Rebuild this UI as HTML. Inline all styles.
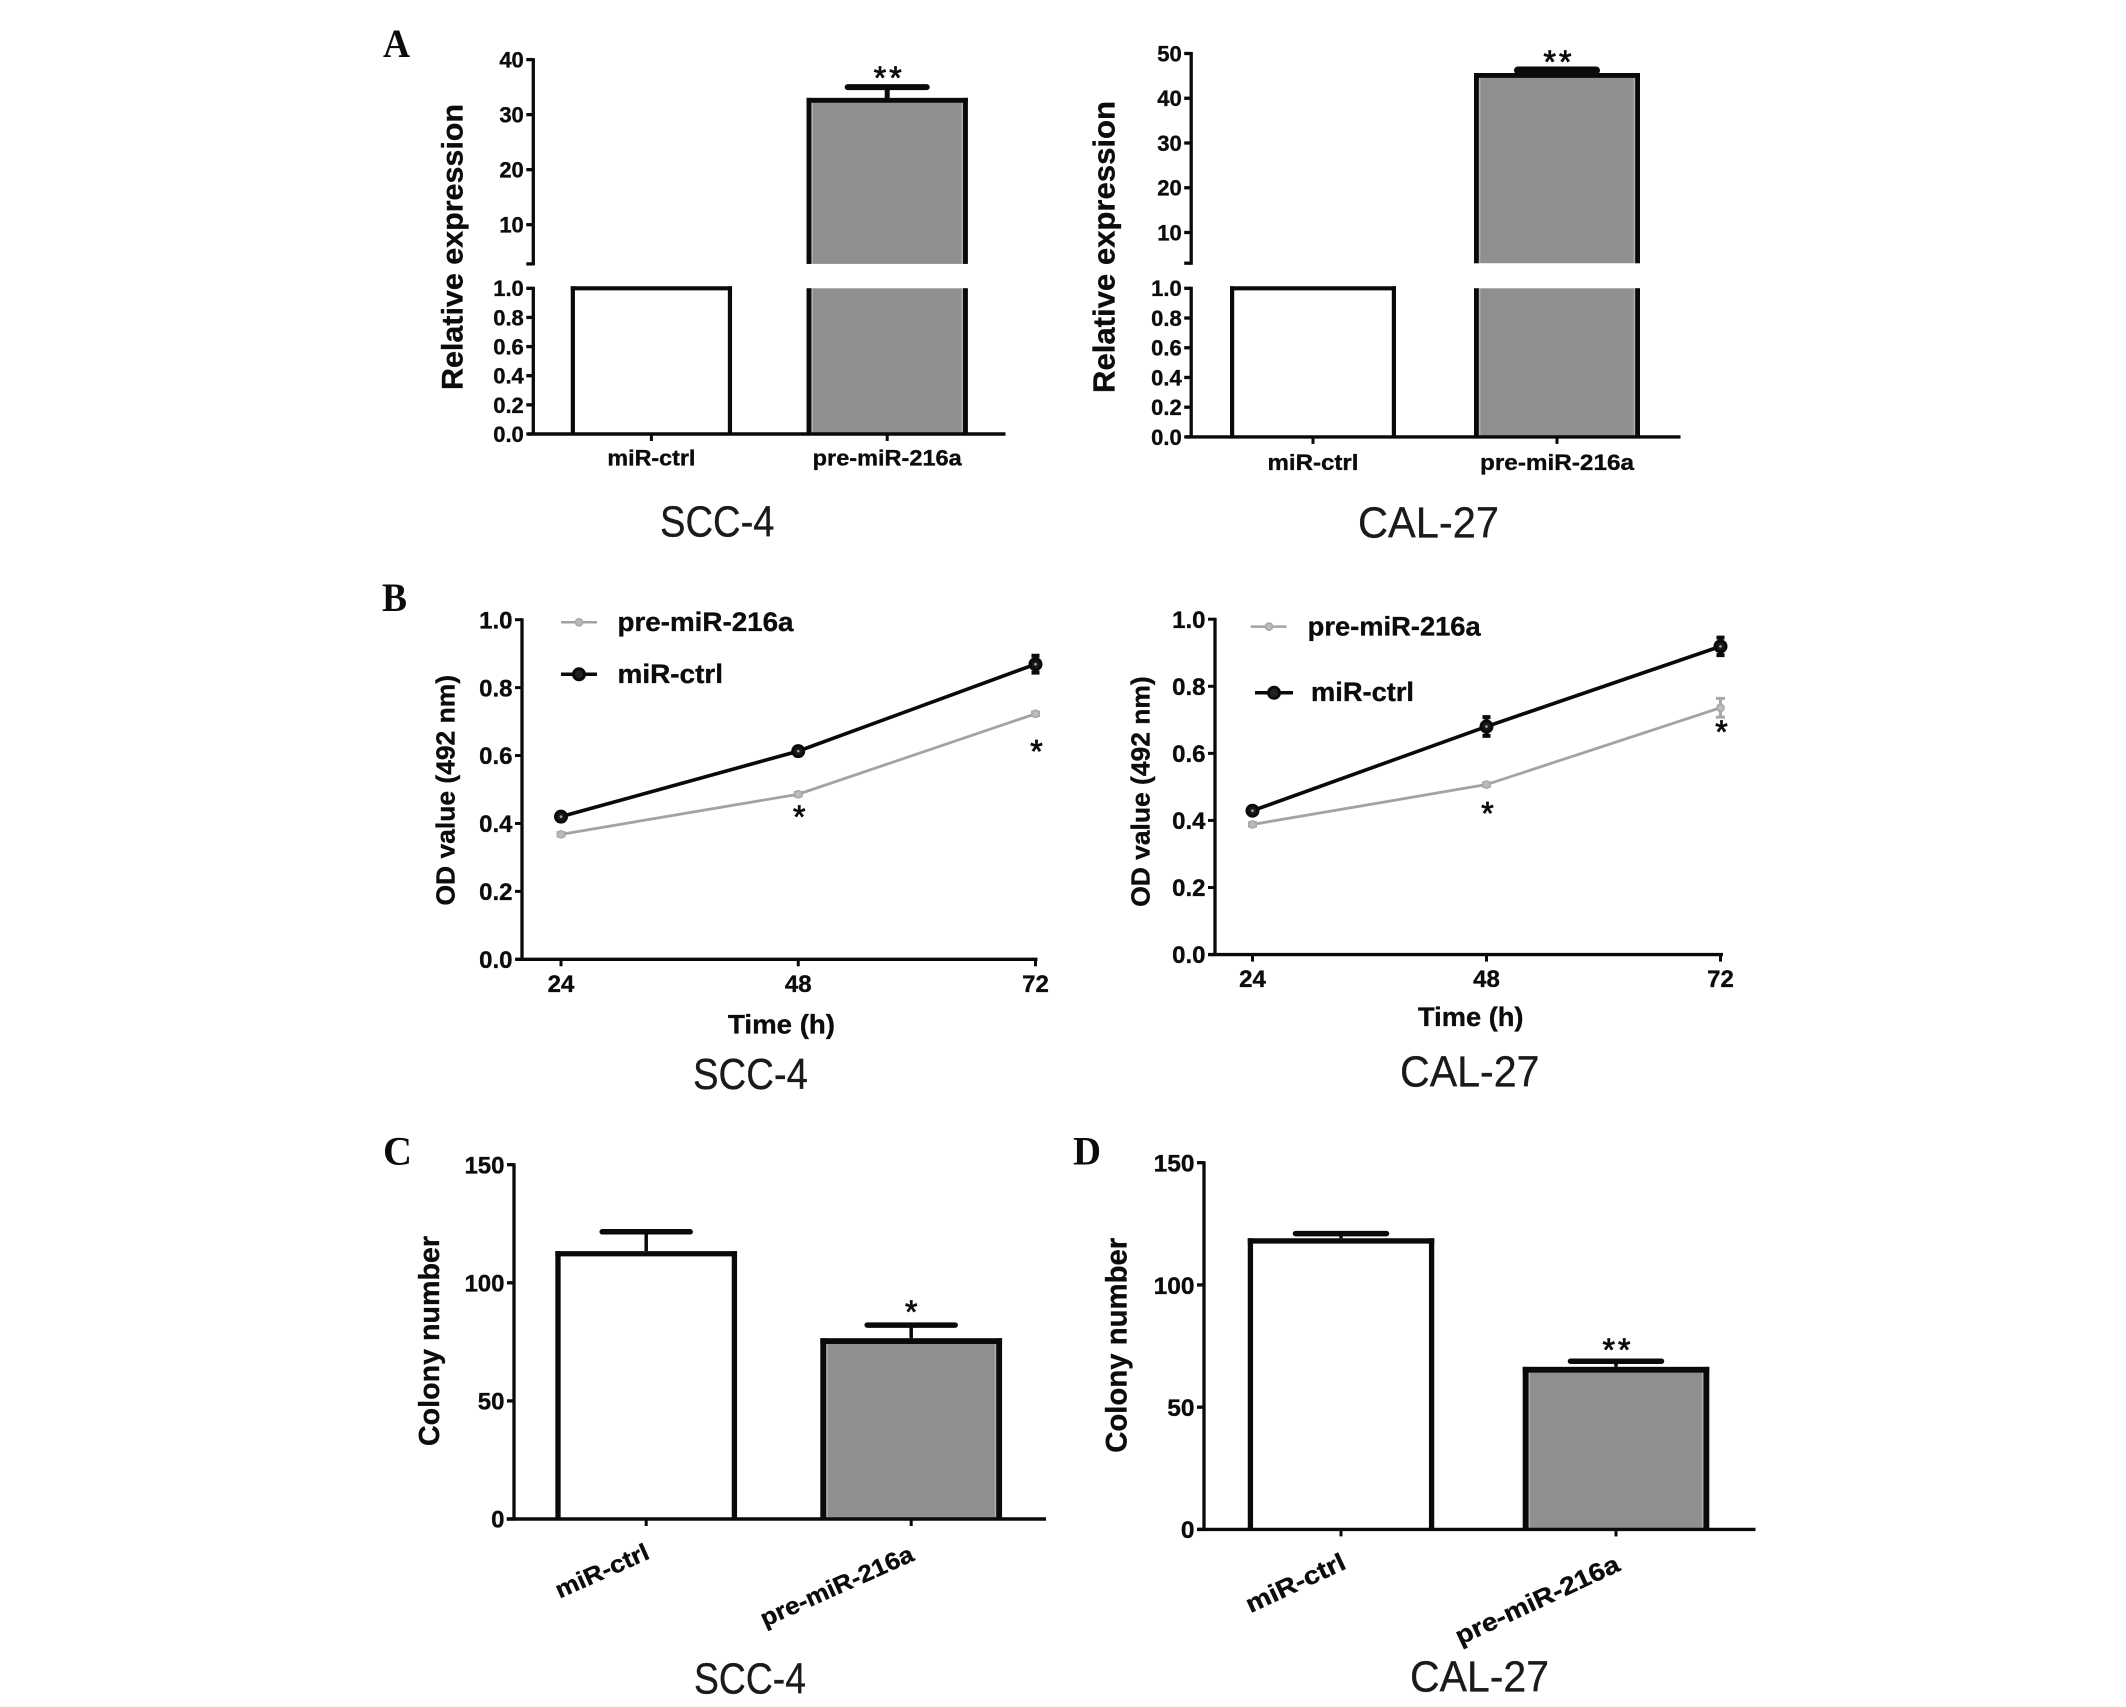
<!DOCTYPE html>
<html lang="en">
<head>
<meta charset="utf-8">
<title>miR-216a expression, proliferation and colony formation</title>
<style>
html,body{margin:0;padding:0;background:#fff;width:2126px;height:1707px;overflow:hidden}
svg{display:block}
text{font-family:"Liberation Sans",Arial,sans-serif;fill:#0c0c0c}
.b,text[font-weight="bold"]{font-weight:bold;stroke:#0c0c0c;stroke-width:.35px}
.letter{font-family:"Liberation Serif",serif;font-weight:bold;font-size:40px}
.caption{font-size:44px;fill:#1a1a1a;stroke:#1a1a1a;stroke-width:.3px}
</style>
</head>
<body>
<svg id="figure" xmlns="http://www.w3.org/2000/svg" width="2126" height="1707" viewBox="0 0 2126 1707">
  <rect x="0" y="0" width="2126" height="1707" fill="#fff"/>

  <text class="letter" x="383" y="57" textLength="27" lengthAdjust="spacingAndGlyphs">A</text>
  <text class="letter" x="382" y="611" textLength="25" lengthAdjust="spacingAndGlyphs">B</text>
  <text class="letter" x="383" y="1164.5" textLength="29" lengthAdjust="spacingAndGlyphs">C</text>
  <text class="letter" x="1073" y="1164.5" textLength="28" lengthAdjust="spacingAndGlyphs">D</text>

  <g id="panel-a1">
    <text class="b" font-size="30" transform="translate(462.5,390) rotate(-90)" textLength="286" lengthAdjust="spacingAndGlyphs">Relative expression</text>
    <text class="caption" x="660" y="536.5" textLength="114.5" lengthAdjust="spacingAndGlyphs">SCC-4</text>
  </g>
  <g id="panel-a2">
    <text class="b" font-size="31" transform="translate(1114.5,393) rotate(-90)" textLength="292" lengthAdjust="spacingAndGlyphs">Relative expression</text>
    <text class="caption" x="1358" y="537.5" textLength="141" lengthAdjust="spacingAndGlyphs">CAL-27</text>
  </g>

  <g id="panel-b1">
    <text class="b" font-size="26" transform="translate(454.5,905.5) rotate(-90)" textLength="230.5" lengthAdjust="spacingAndGlyphs">OD value (492 nm)</text>
    <text class="b" font-size="27" x="728" y="1033.3" textLength="107" lengthAdjust="spacingAndGlyphs">Time (h)</text>
    <text class="caption" x="693" y="1089" textLength="115" lengthAdjust="spacingAndGlyphs">SCC-4</text>
    <g>
      <line x1="561" x2="597" y1="622.3" y2="622.3" stroke="#a3a3a3" stroke-width="2.5"/>
      <circle cx="579" cy="622.3" r="3.6" fill="#bbb" stroke="#a8a8a8" stroke-width="1.5"/>
      <text class="b" font-size="27" x="617.5" y="631" textLength="176" lengthAdjust="spacingAndGlyphs">pre-miR-216a</text>
    </g>
    <g>
      <line x1="561" x2="597" y1="674.3" y2="674.3" stroke="#0a0a0a" stroke-width="3.5"/>
      <circle cx="579" cy="674.3" r="5.5" fill="#222" stroke="#0a0a0a" stroke-width="3"/>
      <text class="b" font-size="27" x="617.5" y="682.8" textLength="105.5" lengthAdjust="spacingAndGlyphs">miR-ctrl</text>
    </g>
  </g>
  <g id="panel-b2">
    <text class="b" font-size="26" transform="translate(1149.7,906.8) rotate(-90)" textLength="230.5" lengthAdjust="spacingAndGlyphs">OD value (492 nm)</text>
    <text class="b" font-size="27" x="1418" y="1026" textLength="105.5" lengthAdjust="spacingAndGlyphs">Time (h)</text>
    <text class="caption" x="1400" y="1086.7" textLength="139.5" lengthAdjust="spacingAndGlyphs">CAL-27</text>
    <g>
      <line x1="1250.7" x2="1286.5" y1="626.6" y2="626.6" stroke="#a3a3a3" stroke-width="2.5"/>
      <circle cx="1269" cy="626.6" r="3.6" fill="#bbb" stroke="#a8a8a8" stroke-width="1.5"/>
      <text class="b" font-size="27" x="1307.7" y="635.4" textLength="173" lengthAdjust="spacingAndGlyphs">pre-miR-216a</text>
    </g>
    <g>
      <line x1="1255" x2="1293" y1="692.8" y2="692.8" stroke="#0a0a0a" stroke-width="3.5"/>
      <circle cx="1274" cy="692.8" r="5.5" fill="#222" stroke="#0a0a0a" stroke-width="3"/>
      <text class="b" font-size="27" x="1311" y="701.2" textLength="103" lengthAdjust="spacingAndGlyphs">miR-ctrl</text>
    </g>
  </g>

  <g id="panel-c">
    <text class="b" font-size="29" transform="translate(439.2,1446) rotate(-90)" textLength="210" lengthAdjust="spacingAndGlyphs">Colony number</text>
    <text class="caption" x="694" y="1693.7" textLength="112" lengthAdjust="spacingAndGlyphs">SCC-4</text>
  </g>
  <g id="panel-d">
    <text class="b" font-size="29.5" transform="translate(1126.5,1452.8) rotate(-90)" textLength="215" lengthAdjust="spacingAndGlyphs">Colony number</text>
    <text class="caption" x="1410" y="1691.5" textLength="139" lengthAdjust="spacingAndGlyphs">CAL-27</text>
  </g>
</svg>

<script>
// ---- Data: panel A, SCC-4 ----
const a1Categories = ['miR-ctrl', 'pre-miR-216a'];
const a1Means = [1, 32.6];
const a1Errors = [0, 2.4];
const a1Stars = ['', '**'];
const a1UpperTicks = [10, 20, 30, 40];
const a1LowerTicks = ['0.0', '0.2', '0.4', '0.6', '0.8', '1.0'];

// ---- Data: panel A, CAL-27 ----
const a2Categories = ['miR-ctrl', 'pre-miR-216a'];
const a2Means = [1, 45.1];
const a2Errors = [0, 1.1];
const a2Stars = ['', '**'];
const a2UpperTicks = [10, 20, 30, 40, 50];
const a2LowerTicks = ['0.0', '0.2', '0.4', '0.6', '0.8', '1.0'];

// ---- Data: panel B, SCC-4 ----
const b1Times = [24, 48, 72];
const b1CtrlMeans = [0.42, 0.613, 0.869];
const b1CtrlErrors = [0.012, 0.012, 0.025];
const b1PreMeans = [0.368, 0.486, 0.723];
const b1PreErrors = [0.005, 0.005, 0.005];
const b1Stars = ['', '*', '*'];
const b1YTicks = ['0.0', '0.2', '0.4', '0.6', '0.8', '1.0'];

// ---- Data: panel B, CAL-27 ----
const b2Times = [24, 48, 72];
const b2CtrlMeans = [0.429, 0.68, 0.919];
const b2CtrlErrors = [0.01, 0.028, 0.026];
const b2PreMeans = [0.388, 0.507, 0.736];
const b2PreErrors = [0.005, 0.005, 0.028];
const b2Stars = ['', '*', '*'];
const b2YTicks = ['0.0', '0.2', '0.4', '0.6', '0.8', '1.0'];

// ---- Data: panel C ----
const cCategories = ['miR-ctrl', 'pre-miR-216a'];
const cMeans = [112.3, 75.3];
const cErrors = [9.3, 6.8];
const cStars = ['', '*'];
const cYTicks = [0, 50, 100, 150];

// ---- Data: panel D ----
const dCategories = ['miR-ctrl', 'pre-miR-216a'];
const dMeans = [118, 65.3];
const dErrors = [3, 3.5];
const dStars = ['', '**'];
const dYTicks = [0, 50, 100, 150];

// ---- Layout ----
const BLACK = '#0a0a0a';
const GREY_FILL = '#8f8f8f';
const GREY_EDGE = '#b0b0b0';
const GREY_LINE = '#a3a3a3';

const layoutA1 = {spineX:533.3, xStart:528, xEnd:1005.5, baseY:434, lowerTopY:288.3, upperRefA:10, upperRefAY:224.7, upperRefB:40, upperRefBY:59.6, upperBottomY:263.9,
  centerA:651.4, centerB:887.2, barWidth:161.3, strokes:[4.2,4.8], capHalf:39.5, capWidth:6, stemWidth:5, labelY:465.5, labelWidths:[88,149], labelSize:22, tickSize:22, starGap:11, axisWidth:3.3};
const layoutA2 = {spineX:1191.2, xStart:1186, xEnd:1680.5, baseY:436.9, lowerTopY:288.3, upperRefA:10, upperRefAY:232.5, upperRefB:50, upperRefBY:53.5, upperBottomY:263.2,
  centerA:1313, centerB:1557, barWidth:166, strokes:[4.2,4.8], capHalf:39, capWidth:8, stemWidth:4.5, labelY:470, labelWidths:[91,154], labelSize:22.5, tickSize:22, starGap:10.5, axisWidth:3.3};
const layoutC = {spineX:514, xStart:506.7, xEnd:1046, baseY:1519, topY:1164.7, topValue:150,
  centerA:646.2, centerB:911.2, barWidth:181.7, strokes:[5.3,5.8], capHalf:44, capWidth:5.5, stemWidth:3.5, tickSize:24, starGap:15, axisWidth:3.3,
  labelAnchors:[[651,1558],[915.5,1560]], labelWidths:[100,165], labelSize:24, labelAngle:-24};
const layoutD = {spineX:1204, xStart:1197.6, xEnd:1755.5, baseY:1529.4, topY:1162.7, topValue:150,
  centerA:1341, centerB:1616, barWidth:186.5, strokes:[5.3,5.8], capHalf:45.5, capWidth:5.5, stemWidth:3.5, tickSize:24.5, starGap:13, axisWidth:3.3,
  labelAnchors:[[1347.5,1568],[1621.5,1570]], labelWidths:[107,178], labelSize:25, labelAngle:-25};
const layoutB1 = {spineX:522, xStart:516, xEnd:1037.5, baseY:959.3, topY:619.7, x24:561, x72:1035.5, tickSize:24, xLabelY:992, starDy:[0,20.5,35.5]};
const layoutB2 = {spineX:1215, xStart:1208.3, xEnd:1723, baseY:954.6, topY:619.2, x24:1252.5, x72:1720.5, tickSize:24, xLabelY:987, starDy:[0,27,22.5]};

// ---- Helpers ----
const SVGNS = 'http://www.w3.org/2000/svg';
function linear(d0, d1, r0, r1) { return v => r0 + (v - d0) * (r1 - r0) / (d1 - d0); }
function add(parent, tag, attrs, content) {
  const node = document.createElementNS(SVGNS, tag);
  for (const k in attrs) node.setAttribute(k, attrs[k]);
  if (content !== undefined) node.textContent = content;
  parent.appendChild(node);
  return node;
}
function seg(parent, x1, y1, x2, y2, w, color, cap) {
  return add(parent, 'line', {x1, y1, x2, y2, stroke: color || BLACK, 'stroke-width': w, 'stroke-linecap': cap || 'butt'});
}
function yTickLabel(parent, x, y, size, label) {
  return add(parent, 'text', {x, y: y + size * 0.36, 'font-size': size, 'font-weight': 'bold', 'text-anchor': 'end'}, label);
}
function drawStar(parent, x, yCenter, label) {
  const t = add(parent, 'text', {x: x + (label.length > 1 ? 2 : 0), y: yCenter + 13, 'font-size': 32, 'text-anchor': 'middle', 'letter-spacing': label.length > 1 ? 3 : 0, stroke: '#0c0c0c', 'stroke-width': 0.8}, label);
  
  
}
function drawYTick(parent, L, y, label) {
  const g = add(parent, 'g', {});
  
  
  seg(g, L.spineX - 7, y, L.spineX, y, L.axisWidth || 3);
  if (label !== null) yTickLabel(g, L.spineX - 9.5, y, L.tickSize, label);
}
function barPiece(g, cx, width, stroke, top, bottom, fill, withTop) {
  const left = cx - width / 2, right = cx + width / 2;
  add(g, 'rect', {x: left, y: top, width, height: bottom - top, fill});
  if (fill === GREY_FILL) {
    const inset = stroke + 0.8;
    seg(g, left + inset, top, left + inset, bottom, 1.6, GREY_EDGE);
    seg(g, right - inset, top, right - inset, bottom, 1.6, GREY_EDGE);
  }
  seg(g, left + stroke / 2, top, left + stroke / 2, bottom, stroke);
  seg(g, right - stroke / 2, top, right - stroke / 2, bottom, stroke);
  if (withTop) seg(g, left, top + stroke / 2, right, top + stroke / 2, stroke);
}
function drawError(parent, L, cx, yMean, yCap) {
  const g = add(parent, 'g', {});
  
  
  seg(g, cx, yCap, cx, yMean, L.stemWidth);
  seg(g, cx - L.capHalf, yCap, cx + L.capHalf, yCap, L.capWidth, BLACK, 'round');
}
function drawXAxisLine(parent, L) {
  const x = seg(parent, L.xStart, L.baseY, L.xEnd, L.baseY, 3.4);
  
  
}

// ---- Panel A: bars on a broken y axis ----
function drawBrokenBarPanel(id, L, categories, means, errors, stars, upperTicks, lowerTicks) {
  const root = document.getElementById(id);
  const lower = linear(0, 1, L.baseY, L.lowerTopY);
  const upper = linear(L.upperRefA, L.upperRefB, L.upperRefAY, L.upperRefBY);
  const xPos = linear(0, 1, L.centerA, L.centerB);
  categories.forEach((cat, i) => {
    const cx = xPos(i);
    const bar = add(root, 'g', {});
    
    
    const fill = i === 0 ? '#fff' : GREY_FILL;
    const stroke = L.strokes[i];
    if (means[i] > 1) {
      const top = upper(means[i]);
      barPiece(bar, cx, L.barWidth, stroke, L.lowerTopY, L.baseY, fill, false);
      barPiece(bar, cx, L.barWidth, stroke, top - stroke / 2, L.upperBottomY, fill, true);
      if (errors[i] > 0) drawError(root, L, cx, top, upper(means[i] + errors[i]));
      if (stars[i]) drawStar(root, cx, upper(means[i] + errors[i]) - L.starGap, stars[i]);
    } else {
      barPiece(bar, cx, L.barWidth, stroke, lower(means[i]) - stroke / 2, L.baseY, fill, true);
    }
    const tick = seg(root, cx, L.baseY, cx, L.baseY + 7, 3);
    
    
    const label = add(root, 'text', {x: cx, y: L.labelY, 'font-size': L.labelSize, 'font-weight': 'bold', 'text-anchor': 'middle', textLength: L.labelWidths[i], lengthAdjust: 'spacingAndGlyphs'}, cat);
    
    
  });
  const topTick = upperTicks[upperTicks.length - 1];
  const spineUp = seg(root, L.spineX, upper(topTick) - 1.5, L.spineX, L.upperBottomY + 1.5, L.axisWidth);
  
  
  const spineLow = seg(root, L.spineX, L.lowerTopY - 1.5, L.spineX, L.baseY, L.axisWidth);
  
  
  upperTicks.forEach(v => drawYTick(root, L, upper(v), String(v)));
  drawYTick(root, L, L.upperBottomY, null);
  lowerTicks.forEach(v => drawYTick(root, L, lower(Number(v)), v));
  drawXAxisLine(root, L);
}

// ---- Panels C, D: bars on a continuous y axis ----
function drawBarPanel(id, L, categories, means, errors, stars, yTicks) {
  const root = document.getElementById(id);
  const y = linear(0, L.topValue, L.baseY, L.topY);
  const xPos = linear(0, 1, L.centerA, L.centerB);
  categories.forEach((cat, i) => {
    const cx = xPos(i);
    const capY = y(means[i] + errors[i]);
    drawError(root, L, cx, y(means[i]), capY);
    const bar = add(root, 'g', {});
    
    
    const stroke = L.strokes[i];
    barPiece(bar, cx, L.barWidth, stroke, y(means[i]) - stroke / 2, L.baseY, i === 0 ? '#fff' : GREY_FILL, true);
    if (stars[i]) drawStar(root, cx, capY - L.starGap, stars[i]);
    const tick = seg(root, cx, L.baseY, cx, L.baseY + 7, 3);
    
    
    const a = L.labelAnchors[i];
    const label = add(root, 'text', {transform: 'translate(' + a[0] + ',' + a[1] + ') rotate(' + L.labelAngle + ')', 'font-size': L.labelSize, 'font-weight': 'bold', 'text-anchor': 'end', textLength: L.labelWidths[i], lengthAdjust: 'spacingAndGlyphs'}, cat);
    
    
  });
  const spine = seg(root, L.spineX, L.topY - 1.5, L.spineX, L.baseY, L.axisWidth);
  
  
  yTicks.forEach(v => drawYTick(root, L, y(v), String(v)));
  drawXAxisLine(root, L);
}

// ---- Panel B: lines over time ----
function drawSeries(root, name, times, means, errs, x, y, color, width, radius, markerFill, markerStroke, markerWidth, capHalf, errWidth, centerDot) {
  const g = add(root, 'g', {});
  
  
  add(g, 'polyline', {points: times.map((t, i) => x(t) + ',' + y(means[i])).join(' '), fill: 'none', stroke: color, 'stroke-width': width});
  times.forEach((t, i) => {
    const cx = x(t), top = y(means[i] + errs[i]), bot = y(means[i] - errs[i]);
    const err = add(g, 'path', {d: 'M' + (cx - capHalf) + ' ' + top + 'H' + (cx + capHalf) + 'M' + cx + ' ' + top + 'V' + bot + 'M' + (cx - capHalf) + ' ' + bot + 'H' + (cx + capHalf), fill: 'none', stroke: markerStroke, 'stroke-width': errWidth});
    
    
    const dot = add(g, 'circle', {cx, cy: y(means[i]), r: radius, fill: markerFill, stroke: markerStroke, 'stroke-width': markerWidth});
    
    
    if (centerDot) add(g, 'circle', {cx, cy: y(means[i]), r: 1.3, fill: centerDot});
  });
}
function drawLinePanel(id, L, times, ctrlMeans, ctrlErrs, preMeans, preErrs, stars, yTicks) {
  const root = document.getElementById(id);
  const x = linear(times[0], times[times.length - 1], L.x24, L.x72);
  const y = linear(0, 1, L.baseY, L.topY);
  const spine = seg(root, L.spineX, L.topY - 1.5, L.spineX, L.baseY, 3.3);
  
  
  yTicks.forEach(v => drawYTick(root, L, y(Number(v)), v));
  drawXAxisLine(root, L);
  times.forEach(t => {
    const tick = seg(root, x(t), L.baseY, x(t), L.baseY + 7, 3);
    
    
    const label = add(root, 'text', {x: x(t), y: L.xLabelY, 'font-size': L.tickSize, 'font-weight': 'bold', 'text-anchor': 'middle'}, String(t));
    
    
  });
  drawSeries(root, 'series-pre-mir-216a', times, preMeans, preErrs, x, y, GREY_LINE, 2.8, 3.6, '#bbb', '#a8a8a8', 1.5, 4.5, 3, '');
  drawSeries(root, 'series-mir-ctrl', times, ctrlMeans, ctrlErrs, x, y, BLACK, 3.6, 5.5, '#1a1a1a', BLACK, 3, 4, 4, '#aaa');
  times.forEach((t, i) => {
    if (stars[i]) drawStar(root, x(t) + 1, y(preMeans[i]) + L.starDy[i], stars[i]);
  });
}

drawBrokenBarPanel('panel-a1', layoutA1, a1Categories, a1Means, a1Errors, a1Stars, a1UpperTicks, a1LowerTicks);
drawBrokenBarPanel('panel-a2', layoutA2, a2Categories, a2Means, a2Errors, a2Stars, a2UpperTicks, a2LowerTicks);
drawLinePanel('panel-b1', layoutB1, b1Times, b1CtrlMeans, b1CtrlErrors, b1PreMeans, b1PreErrors, b1Stars, b1YTicks);
drawLinePanel('panel-b2', layoutB2, b2Times, b2CtrlMeans, b2CtrlErrors, b2PreMeans, b2PreErrors, b2Stars, b2YTicks);
drawBarPanel('panel-c', layoutC, cCategories, cMeans, cErrors, cStars, cYTicks);
drawBarPanel('panel-d', layoutD, dCategories, dMeans, dErrors, dStars, dYTicks);
</script>
</body>
</html>
